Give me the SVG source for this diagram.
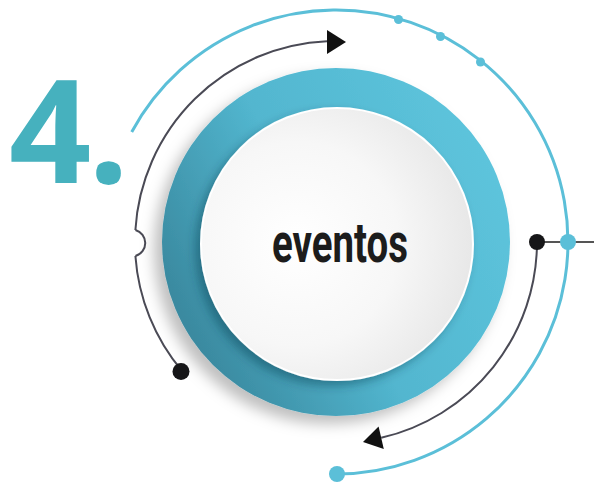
<svg xmlns="http://www.w3.org/2000/svg" width="594" height="482" viewBox="0 0 594 482">
  <style>
    .blue { fill: none; stroke: #5bbfd8; stroke-width: 3; }
    .dark { fill: none; stroke: #4a4a55; stroke-width: 2; }
    .bdot { fill: #5bbfd8; }
    .kdot { fill: #161618; }
    .num { font-family: "Open Sans", "Liberation Sans", sans-serif; font-weight: 700; font-size: 144px; fill: #46b1be; }
    .label { font-family: Roboto, "Liberation Sans", sans-serif; font-weight: 700; font-size: 55px; fill: #1c1c1c; }
  </style>
  <defs>
    <linearGradient id="ringGrad" gradientUnits="userSpaceOnUse" x1="480" y1="130" x2="170" y2="290">
      <stop offset="0" stop-color="#5dc4dc"/>
      <stop offset="0.55" stop-color="#52b6cf"/>
      <stop offset="1" stop-color="#3a8aa0"/>
    </linearGradient>
    <radialGradient id="faceGrad" cx="0.35" cy="0.5" r="0.75">
      <stop offset="0" stop-color="#ffffff"/>
      <stop offset="0.5" stop-color="#f7f7f7"/>
      <stop offset="1" stop-color="#e2e2e2"/>
    </radialGradient>
    <filter id="ringShadow" x="-20%" y="-20%" width="140%" height="140%">
      <feDropShadow dx="-8" dy="8" stdDeviation="7" flood-color="#000" flood-opacity="0.25"/>
    </filter>
    <filter id="faceShadow" x="-20%" y="-20%" width="140%" height="140%">
      <feDropShadow dx="-5" dy="5" stdDeviation="5" flood-color="#0b3a48" flood-opacity="0.4"/>
    </filter>
  </defs>

  <g id="title">
    <text class="num" x="9 88" y="183">4.</text>
  </g>

  <g id="connectors">
    <path class="blue" d="M131.7 132 A232 232 0 1 1 337 474"/>
    <line x1="537" y1="242" x2="594" y2="242" stroke="#555" stroke-width="2"/>
    <path class="dark" d="M327 41.2 A201 201 0 0 0 135.4 230"/>
    <path d="M135.4 230 A13.5 13.5 0 0 1 135.4 256" fill="#fff" stroke="#4a4a55" stroke-width="2"/>
    <path class="dark" d="M135.4 256 A201 201 0 0 0 182 371"/>
    <polygon points="327,30 346,42 327,54" fill="#111"/>
    <path class="dark" d="M537 242 A201 201 0 0 1 381.2 437.8"/>
    <polygon points="363,442 378.6,426.6 383.8,449" fill="#111"/>
    <circle class="bdot" cx="398.5" cy="19.5" r="4.5"/>
    <circle class="bdot" cx="440.5" cy="36.5" r="4.5"/>
    <circle class="bdot" cx="480.5" cy="62" r="4.5"/>
    <circle class="bdot" cx="568" cy="242" r="8"/>
    <circle class="bdot" cx="337" cy="474" r="8"/>
    <circle class="kdot" cx="537" cy="242" r="8"/>
    <circle class="kdot" cx="181" cy="371.5" r="8.5"/>
  </g>

  <g id="center-node">
    <circle cx="336" cy="242" r="174" fill="url(#ringGrad)" filter="url(#ringShadow)"/>
    <circle cx="337" cy="244" r="136" fill="url(#faceGrad)" stroke="#ffffff" stroke-width="2" filter="url(#faceShadow)"/>
    <text class="label" x="272" y="262" textLength="136" lengthAdjust="spacingAndGlyphs">eventos</text>
  </g>
</svg>
